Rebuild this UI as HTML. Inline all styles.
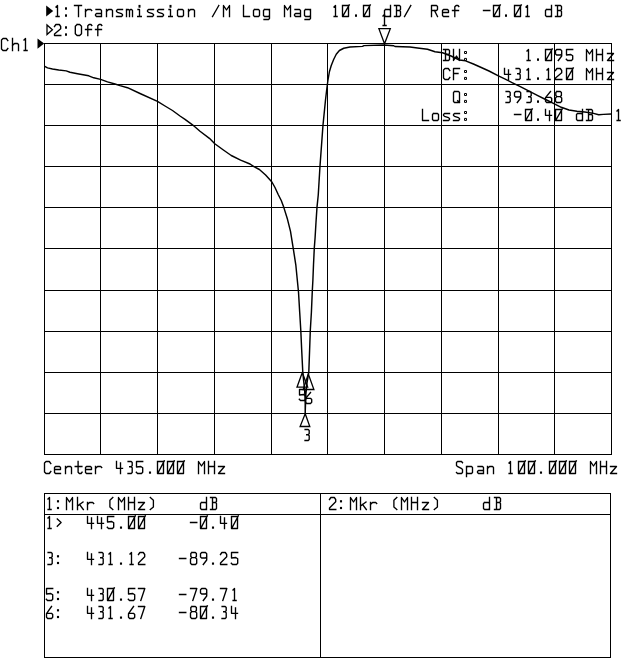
<!DOCTYPE html>
<html><head><meta charset="utf-8">
<style>
html,body{margin:0;padding:0;background:#fff;}
body{width:640px;height:659px;overflow:hidden;font-family:"Liberation Mono",monospace;}
svg{display:block;}
</style></head><body>
<svg width="640" height="659" viewBox="0 0 640 659">
<rect width="640" height="659" fill="#fff"/>
<g stroke="#000" stroke-width="1" fill="none" shape-rendering="crispEdges">
<path d="M44.5 43V455M100.5 43V455M157.5 43V455M214.5 43V455M271.5 43V455M327.5 43V455M384.5 43V455M441.5 43V455M498.5 43V455M554.5 43V455M611.5 43V455"/>
<path d="M44 43.5H612M44 84.5H612M44 125.5H612M44 166.5H612M44 207.5H612M44 248.5H612M44 290.5H612M44 331.5H612M44 372.5H612M44 413.5H612M44 454.5H612"/>
<path d="M44.5 493.5H610.5V657.5H44.5ZM44.5 514.5H610.5M320.5 493.5V657.5"/>
</g>
<g stroke="#000" stroke-width="1.45" fill="none" stroke-linejoin="round">
<polyline points="44.75,66.3 47.5,67.9 52.5,69 58.75,70 66.25,70.9 70,72.3 77.5,73.75 88.75,75.8 93.75,77.8 100.6,79.4 107.5,81.9 115,84 120,85.6 127.5,87.7 140,93.5 157.5,101.4 165,106 172.5,110.5 180,116 185,119.3 192.5,124.8 200,131.25 209.4,138.3 214.8,143.75 223.4,150 231.25,155.5 240.6,160.2 250,164 253.9,166.7 259.4,169.5 265.6,175 271.9,182 275,187.5 278.2,194.5 281.25,200.5 283.7,207.1 287.5,219.3 290.5,231.4 293.2,248.1 295.8,264.8 297.3,280 298.5,292 299.7,312.3 300.8,330.5 301.7,350.2 302.8,372.2 303.4,378.5 304.6,389.5 305.2,401.5 305.2,413.6 305.8,395 307,383 308.8,372.2 309.6,350.2 310.3,330.5 311.4,312.3 312.3,291 312.9,280 313.5,264.8 314.3,248.1 315.1,237.5 316,222.3 317,207.1 318.25,195 320,166 323,125 325.5,100 326.9,88 327.9,80.5 329.4,71.75 331.25,65.5 333.75,59.25 336.25,54.25 339.4,50.5 343.75,48.25 350,47 362.5,46.4 364,45.6 384,45 393.75,45.75 395,46.5 410,47 417.5,48 427.5,49.25 435,51.75 442.5,52.75 450,55.5 459.4,60 465.6,60.8 473.4,64 481.25,67.5 489,71 498.4,75.8 504.7,78.9 512.5,82.8 520.3,86.7 528.1,90.6 537.8,95.6 545.6,99.5 553.4,103.4 561.25,107.3 569,110 576.9,111.25 584.7,112 592.5,113.1 598.75,114.7 603.4,114.4 611.25,114"/>
</g>
<g stroke="#000" stroke-width="1.3" fill="none">
<path d="M384.5 43.8L378.9 28.7H390.3Z"/>
<path d="M302.3 372.5L297 387.2H307.7Z"/>
<path d="M308.3 374L303.2 389.5H313.9Z"/>
<path d="M305.2 413.7L300.1 426.5H309.8Z"/>
<path stroke-width="1.3" d="M47 25V34.6L52.4 29.8Z"/>
</g>
<g fill="#000" stroke="none">
<path d="M46.2 5.6V16.4L53.2 11Z"/>
<path d="M37.5 38.5V48.8L44.2 43.6Z"/>
</g>
<g stroke="#000" stroke-width="1.35" fill="none" stroke-linecap="square" stroke-linejoin="round">
<path d="M56 7L57.5 5.5 57.5 16.5M56.1 16.5L59.1 16.5M74.5 5.5L81.5 5.5M78.5 5.5L78.5 16.5M85.5 16.5L85.5 9.5M85.5 11.5L87.5 9.5 90.7 9.5 91.7 10.5M96 9.5L100.5 9.5 101.5 10.5 101.5 16.5M101.5 13.5L96.5 13.5 95.5 14.5 95.5 15.5 96.5 16.5 101.5 16.5M106.5 16.5L106.5 9.5M106.5 11.5L108.5 9.5 111.5 9.5 112.5 10.5 112.5 16.5M122.5 9.5L117.5 9.5 116.5 10.5 116.5 11.5 117.5 12.3 121.5 13.7 122.5 14.5 122.5 15.5 121.5 16.5 116.5 16.5M126.5 16.5L126.5 9.5M126.5 10.5L127.5 9.5 128.5 9.5 129.5 10.5 129.5 16.5M129.5 10.5L130.5 9.5 131.5 9.5 132.5 10.5 132.5 16.5M138 9.5L139.5 9.5 139.5 16.5M137.7 16.5L141.3 16.5M153.5 9.5L148.5 9.5 147.5 10.5 147.5 11.5 148.5 12.3 152.5 13.7 153.5 14.5 153.5 15.5 152.5 16.5 147.5 16.5M163.5 9.5L158.5 9.5 157.5 10.5 157.5 11.5 158.5 12.3 162.5 13.7 163.5 14.5 163.5 15.5 162.5 16.5 157.5 16.5M169 9.5L170.5 9.5 170.5 16.5M168.7 16.5L172.3 16.5M178.5 9.5L182.5 9.5 183.5 10.5 183.5 15.5 182.5 16.5 178.5 16.5 177.5 15.5 177.5 10.5 178.5 9.5M188.5 16.5L188.5 9.5M188.5 11.5L190.5 9.5 193.5 9.5 194.5 10.5 194.5 16.5"/>
<path d="M212.5 16.5L218.8 5.5M223.5 16.5L223.5 5.5 226.5 10 229.5 5.5 229.5 16.5M243.5 5.5L243.5 16.5 249.5 16.5M254.5 9.5L258.5 9.5 259.5 10.5 259.5 15.5 258.5 16.5 254.5 16.5 253.5 15.5 253.5 10.5 254.5 9.5M264.5 9.5L268.5 9.5 269.5 10.5 269.5 15.5 268.5 16.5 264.5 16.5 263.5 15.5 263.5 10.5 264.5 9.5M269.5 9.5L269.5 18.5 268.5 19.5 264 19.5M284.5 16.5L284.5 5.5 287.5 10 290.5 5.5 290.5 16.5M295 9.5L299.5 9.5 300.5 10.5 300.5 16.5M300.5 13.5L295.5 13.5 294.5 14.5 294.5 15.5 295.5 16.5 300.5 16.5M305.5 9.5L309.5 9.5 310.5 10.5 310.5 15.5 309.5 16.5 305.5 16.5 304.5 15.5 304.5 10.5 305.5 9.5M310.5 9.5L310.5 18.5 309.5 19.5 305 19.5"/>
<path d="M334 7L335.5 5.5 335.5 16.5M334.1 16.5L337.1 16.5M342.5 5.5L348.5 5.5 348.5 16.5 342.5 16.5 342.5 5.5M343.3 15.3L349.3 4.9M363.5 5.5L369.5 5.5 369.5 16.5 363.5 16.5 363.5 5.5M364.3 15.3L370.3 4.9M385.5 9.5L389.5 9.5 390.5 10.5 390.5 15.5 389.5 16.5 385.5 16.5 384.5 15.5 384.5 10.5 385.5 9.5M390.5 16.5L390.5 5.5M394.5 5.5L399.5 5.5 400.5 6.5 400.5 9.5 399.5 10.5 400.5 11.5 400.5 15.5 399.5 16.5 394.5 16.5M396.5 5.5L396.5 16.5M396.5 10.5L399.5 10.5M404.5 16.5L410.8 5.5"/>
<path d="M431.5 16.5L431.5 5.5 436.5 5.5 437.5 6.5 437.5 9.5 436.5 10.5 431.5 10.5M434.5 10.5L437.5 16.5M442.5 12.5L448.5 12.5 448.5 10.5 447.5 9.5 443.5 9.5 442.5 10.5 442.5 15.5 443.5 16.5 448.5 16.5M454.8 16.5L454.8 6.8 456.1 5.5 458 5.5 458.8 6.5M452.5 10.5L458.5 10.5"/>
<path d="M483.5 10.5L489.8 10.5M493.5 5.5L499.5 5.5 499.5 16.5 493.5 16.5 493.5 5.5M494.3 15.3L500.3 4.9M514.5 5.5L520.5 5.5 520.5 16.5 514.5 16.5 514.5 5.5M515.3 15.3L521.3 4.9M526 7L527.5 5.5 527.5 16.5M526.1 16.5L529.1 16.5M546.5 9.5L550.5 9.5 551.5 10.5 551.5 15.5 550.5 16.5 546.5 16.5 545.5 15.5 545.5 10.5 546.5 9.5M551.5 16.5L551.5 5.5M555.5 5.5L560.5 5.5 561.5 6.5 561.5 9.5 560.5 10.5 561.5 11.5 561.5 15.5 560.5 16.5 555.5 16.5M557.5 5.5L557.5 16.5M557.5 10.5L560.5 10.5"/>
<path d="M54.5 26.5L55.9 24.5 59.3 24.5 60.7 26.5 60.7 28.8 54.5 34 54.5 35.5 60.8 35.5M77.1 24.5L79.7 24.5 81.5 26.3 81.5 33.7 79.7 35.5 77.1 35.5 75.3 33.7 75.3 26.3 77.1 24.5M87.8 35.5L87.8 25.8 89.1 24.5 91 24.5 91.8 25.5M85.5 29.5L91.5 29.5M97.8 35.5L97.8 25.8 99.1 24.5 101 24.5 101.8 25.5M95.5 29.5L101.5 29.5"/>
<path d="M7.8 40.5L6.3 38.5 3 38.5 1.5 40 1.5 49 3 50.5 6.3 50.5 7.8 48.5M12.5 50.5L12.5 38.5M12.5 45.5L14.5 43.5 17.5 43.5 18.5 44.5 18.5 50.5M24 40L25.5 38.5 25.5 50.5M24.1 50.5L27.1 50.5"/>
<path d="M443.5 49.5L448.5 49.5 449.5 50.5 449.5 53.5 448.5 54.5 449.5 55.5 449.5 59.5 448.5 60.5 443.5 60.5M445.5 49.5L445.5 60.5M445.5 54.5L448.5 54.5M453.5 49.5L453.5 60.5 456.5 56 459.5 60.5 459.5 49.5M527 51L528.5 49.5 528.5 60.5M527.1 60.5L530.1 60.5M545.5 49.5L551.5 49.5 551.5 60.5 545.5 60.5 545.5 49.5M546.3 59.3L552.3 48.9M561.7 53.9L560.5 55 556.7 55 555.5 53.9 555.5 50.7 556.7 49.5 560.5 49.5 561.7 50.7 561.7 56 558.3 60.5M572.7 49.5L566.5 49.5 566.5 55 570.8 54.5 572.7 55.8 572.7 59.3 571.5 60.5 567.5 60.5 566.3 59.3M586.5 60.5L586.5 49.5 589.5 54 592.5 49.5 592.5 60.5M596.5 60.5L596.5 49.5M602.5 60.5L602.5 49.5M596.5 54.5L602.5 54.5M607.5 53.5L613.5 53.5 607.5 60.5 613.5 60.5"/>
<path stroke-width="1" stroke-linecap="butt" stroke-linejoin="miter" d="M464.5 51.5h2v2h-2zM464.5 58.4h2v2h-2z"/>
<path d="M449.8 70.5L448.3 68.5 445 68.5 443.5 70 443.5 78 445 79.5 448.3 79.5 449.8 77.5M453.5 79.5L453.5 68.5 459.5 68.5M453.5 73.5L458 73.5M504.5 68.5L504.5 74.3 510.5 74.3M508.5 70L508.5 79.5M516.1 68.5L519.2 68.5 520.2 69.5 520.2 72.7 519 73.7 517.7 73.7M519 73.7L520.2 74.7 520.2 78.5 519.2 79.5 516 79.5M527 70L528.5 68.5 528.5 79.5M527.1 79.5L530.1 79.5M547 70L548.5 68.5 548.5 79.5M547.1 79.5L550.1 79.5M555.5 70.5L556.9 68.5 560.3 68.5 561.7 70.5 561.7 72.8 555.5 78 555.5 79.5 561.8 79.5M566.5 68.5L572.5 68.5 572.5 79.5 566.5 79.5 566.5 68.5M567.3 78.3L573.3 67.9M586.5 79.5L586.5 68.5 589.5 73 592.5 68.5 592.5 79.5M596.5 79.5L596.5 68.5M602.5 79.5L602.5 68.5M596.5 73.5L602.5 73.5M607.5 72.5L613.5 72.5 607.5 79.5 613.5 79.5"/>
<path stroke-width="1" stroke-linecap="butt" stroke-linejoin="miter" d="M464.5 70.5h2v2h-2zM464.5 77.4h2v2h-2z"/>
<path d="M454.5 91.5L458.5 91.5 459.5 92.5 459.5 101.5 458.5 102.5 454.5 102.5 453.5 101.5 453.5 92.5 454.5 91.5M457.7 100.7L459.5 102.5M506.1 91.5L509.2 91.5 510.2 92.5 510.2 95.7 509 96.7 507.7 96.7M509 96.7L510.2 97.7 510.2 101.5 509.2 102.5 506 102.5M520.7 95.9L519.5 97 515.7 97 514.5 95.9 514.5 92.7 515.7 91.5 519.5 91.5 520.7 92.7 520.7 98 517.3 102.5M527.1 91.5L530.2 91.5 531.2 92.5 531.2 95.7 530 96.7 528.7 96.7M530 96.7L531.2 97.7 531.2 101.5 530.2 102.5 527 102.5M550.5 91.5L545.5 97.7 545.5 101.3 546.7 102.5 550.5 102.5 551.7 101.3 551.7 98.5 550.5 97.3 546.1 97.3M556.9 91.5L560.3 91.5 561.4 92.6 561.4 95.5 560.3 96.6 556.9 96.6 555.8 95.5 555.8 92.6 556.9 91.5M556.9 96.6L555.5 97.9 555.5 101.3 556.7 102.5 560.5 102.5 561.7 101.3 561.7 97.9 560.3 96.6"/>
<path stroke-width="1" stroke-linecap="butt" stroke-linejoin="miter" d="M464.5 93.5h2v2h-2zM464.5 100.4h2v2h-2z"/>
<path d="M422.5 109.5L422.5 120.5 428.5 120.5M433.5 113.5L437.5 113.5 438.5 114.5 438.5 119.5 437.5 120.5 433.5 120.5 432.5 119.5 432.5 114.5 433.5 113.5M449.5 113.5L444.5 113.5 443.5 114.5 443.5 115.5 444.5 116.3 448.5 117.7 449.5 118.5 449.5 119.5 448.5 120.5 443.5 120.5M459.5 113.5L454.5 113.5 453.5 114.5 453.5 115.5 454.5 116.3 458.5 117.7 459.5 118.5 459.5 119.5 458.5 120.5 453.5 120.5M514.5 114.5L520.8 114.5M525.5 109.5L531.5 109.5 531.5 120.5 525.5 120.5 525.5 109.5M526.3 119.3L532.3 108.9M545.5 109.5L545.5 115.3 551.5 115.3M549.5 111L549.5 120.5M555.5 109.5L561.5 109.5 561.5 120.5 555.5 120.5 555.5 109.5M556.3 119.3L562.3 108.9M577.5 113.5L581.5 113.5 582.5 114.5 582.5 119.5 581.5 120.5 577.5 120.5 576.5 119.5 576.5 114.5 577.5 113.5M582.5 120.5L582.5 109.5M586.5 109.5L591.5 109.5 592.5 110.5 592.5 113.5 591.5 114.5 592.5 115.5 592.5 119.5 591.5 120.5 586.5 120.5M588.5 109.5L588.5 120.5M588.5 114.5L591.5 114.5"/>
<path stroke-width="1" stroke-linecap="butt" stroke-linejoin="miter" d="M464.5 111.5h2v2h-2zM464.5 118.4h2v2h-2z"/>
<path d="M617 111L618.5 109.5 618.5 120.5M617.1 120.5L620.1 120.5"/>
<path d="M383 16L384.5 14.5 384.5 25.5M383.1 25.5L386.1 25.5"/>
<path d="M50.8 463.5L49.3 461.5 46 461.5 44.5 463 44.5 472 46 473.5 49.3 473.5 50.8 471.5M54.5 469.5L60.5 469.5 60.5 467.5 59.5 466.5 55.5 466.5 54.5 467.5 54.5 472.5 55.5 473.5 60.5 473.5M65.5 473.5L65.5 466.5M65.5 468.5L67.5 466.5 70.5 466.5 71.5 467.5 71.5 473.5M78.1 461.5L78.1 472.3 79.3 473.5 81.1 473.5 82.1 472.1M75.2 466.5L81.9 466.5M85.5 469.5L91.5 469.5 91.5 467.5 90.5 466.5 86.5 466.5 85.5 467.5 85.5 472.5 86.5 473.5 91.5 473.5M95.5 473.5L95.5 466.5M95.5 468.5L97.5 466.5 100.7 466.5 101.7 467.5M116.5 461.5L116.5 468.3 122.5 468.3M120.5 463L120.5 473.5M128.1 461.5L131.2 461.5 132.2 462.5 132.2 465.7 131 466.7 129.7 466.7M131 466.7L132.2 467.7 132.2 472.5 131.2 473.5 128 473.5M142.7 461.5L136.5 461.5 136.5 467 140.8 466.5 142.7 467.8 142.7 472.3 141.5 473.5 137.5 473.5 136.3 472.3M157.5 461.5L163.5 461.5 163.5 473.5 157.5 473.5 157.5 461.5M158.3 472.3L164.3 460.9M167.5 461.5L173.5 461.5 173.5 473.5 167.5 473.5 167.5 461.5M168.3 472.3L174.3 460.9M177.5 461.5L183.5 461.5 183.5 473.5 177.5 473.5 177.5 461.5M178.3 472.3L184.3 460.9M198.5 473.5L198.5 461.5 201.5 466 204.5 461.5 204.5 473.5M208.5 473.5L208.5 461.5M214.5 473.5L214.5 461.5M208.5 466.5L214.5 466.5M218.5 466.5L224.5 466.5 218.5 473.5 224.5 473.5"/>
<path d="M462.5 462.7L461.5 461.5 457.5 461.5 456.5 462.5 456.5 465.5 457.3 466.3 461.7 468.7 462.5 469.5 462.5 472.5 461.5 473.5 457.5 473.5 456.5 472.5M467.5 466.5L471.5 466.5 472.5 467.5 472.5 472.5 471.5 473.5 467.5 473.5 466.5 472.5 466.5 467.5 467.5 466.5M466.5 466.5L466.5 476.5M478 466.5L482.5 466.5 483.5 467.5 483.5 473.5M483.5 470.5L478.5 470.5 477.5 471.5 477.5 472.5 478.5 473.5 483.5 473.5M487.5 473.5L487.5 466.5M487.5 468.5L489.5 466.5 492.5 466.5 493.5 467.5 493.5 473.5M509 463L510.5 461.5 510.5 473.5M509.1 473.5L512.1 473.5M518.5 461.5L524.5 461.5 524.5 473.5 518.5 473.5 518.5 461.5M519.3 472.3L525.3 460.9M528.5 461.5L534.5 461.5 534.5 473.5 528.5 473.5 528.5 461.5M529.3 472.3L535.3 460.9M549.5 461.5L555.5 461.5 555.5 473.5 549.5 473.5 549.5 461.5M550.3 472.3L556.3 460.9M559.5 461.5L565.5 461.5 565.5 473.5 559.5 473.5 559.5 461.5M560.3 472.3L566.3 460.9M569.5 461.5L575.5 461.5 575.5 473.5 569.5 473.5 569.5 461.5M570.3 472.3L576.3 460.9M590.5 473.5L590.5 461.5 593.5 466 596.5 461.5 596.5 473.5M600.5 473.5L600.5 461.5M606.5 473.5L606.5 461.5M600.5 466.5L606.5 466.5M610.5 466.5L616.5 466.5 610.5 473.5 616.5 473.5"/>
<path d="M48 499L49.5 497.5 49.5 509.5M48.1 509.5L51.1 509.5M66.5 509.5L66.5 497.5 69.5 502 72.5 497.5 72.5 509.5M77.5 509.5L77.5 497.5M77.5 506L83 502M79.5 504.5L83.3 509.5M87.5 509.5L87.5 502.5M87.5 504.5L89.5 502.5 92.7 502.5 93.7 503.5M112.8 497.5L109.9 500.2 109.9 506.9 112.8 509.5M118.5 509.5L118.5 497.5 121.5 502 124.5 497.5 124.5 509.5M128.5 509.5L128.5 497.5M134.5 509.5L134.5 497.5M128.5 502.5L134.5 502.5M138.5 502.5L144.5 502.5 138.5 509.5 144.5 509.5M150.3 497.5L153.4 500.2 153.4 506.9 150.3 509.5M201.5 502.5L205.5 502.5 206.5 503.5 206.5 508.5 205.5 509.5 201.5 509.5 200.5 508.5 200.5 503.5 201.5 502.5M206.5 509.5L206.5 497.5M210.5 497.5L215.5 497.5 216.5 498.5 216.5 501.5 215.5 502.5 216.5 503.5 216.5 508.5 215.5 509.5 210.5 509.5M212.5 497.5L212.5 509.5M212.5 502.5L215.5 502.5"/>
<path d="M329.5 499.5L330.9 497.5 334.3 497.5 335.7 499.5 335.7 501.8 329.5 508 329.5 509.5 335.8 509.5M350.5 509.5L350.5 497.5 353.5 502 356.5 497.5 356.5 509.5M360.5 509.5L360.5 497.5M360.5 506L366 502M362.5 504.5L366.3 509.5M370.5 509.5L370.5 502.5M370.5 504.5L372.5 502.5 375.7 502.5 376.7 503.5M396.8 497.5L393.9 500.2 393.9 506.9 396.8 509.5M401.5 509.5L401.5 497.5 404.5 502 407.5 497.5 407.5 509.5M411.5 509.5L411.5 497.5M417.5 509.5L417.5 497.5M411.5 502.5L417.5 502.5M422.5 502.5L428.5 502.5 422.5 509.5 428.5 509.5M434.3 497.5L437.4 500.2 437.4 506.9 434.3 509.5M484.5 502.5L488.5 502.5 489.5 503.5 489.5 508.5 488.5 509.5 484.5 509.5 483.5 508.5 483.5 503.5 484.5 502.5M489.5 509.5L489.5 497.5M494.5 497.5L499.5 497.5 500.5 498.5 500.5 501.5 499.5 502.5 500.5 503.5 500.5 508.5 499.5 509.5 494.5 509.5M496.5 497.5L496.5 509.5M496.5 502.5L499.5 502.5"/>
<path d="M48 518L49.5 516.5 49.5 528.5M48.1 528.5L51.1 528.5M57.3 519L61.1 522.5 57.3 526.2M87.5 516.5L87.5 523.3 93.5 523.3M91.5 518L91.5 528.5M97.5 516.5L97.5 523.3 103.5 523.3M101.5 518L101.5 528.5M113.7 516.5L107.5 516.5 107.5 522 111.8 521.5 113.7 522.8 113.7 527.3 112.5 528.5 108.5 528.5 107.3 527.3M128.5 516.5L134.5 516.5 134.5 528.5 128.5 528.5 128.5 516.5M129.3 527.3L135.3 515.9M138.5 516.5L144.5 516.5 144.5 528.5 138.5 528.5 138.5 516.5M139.3 527.3L145.3 515.9M190.5 522.5L196.8 522.5M200.5 516.5L206.5 516.5 206.5 528.5 200.5 528.5 200.5 516.5M201.3 527.3L207.3 515.9M220.5 516.5L220.5 523.3 226.5 523.3M224.5 518L224.5 528.5M231.5 516.5L237.5 516.5 237.5 528.5 231.5 528.5 231.5 516.5M232.3 527.3L238.3 515.9"/>
<path d="M48.1 552.5L51.2 552.5 52.2 553.5 52.2 556.7 51 557.7 49.7 557.7M51 557.7L52.2 558.7 52.2 563.5 51.2 564.5 48 564.5M87.5 552.5L87.5 559.3 93.5 559.3M91.5 554L91.5 564.5M99.1 552.5L102.2 552.5 103.2 553.5 103.2 556.7 102 557.7 100.7 557.7M102 557.7L103.2 558.7 103.2 563.5 102.2 564.5 99 564.5M109 554L110.5 552.5 110.5 564.5M109.1 564.5L112.1 564.5M130 554L131.5 552.5 131.5 564.5M130.1 564.5L133.1 564.5M138.5 554.5L139.9 552.5 143.3 552.5 144.7 554.5 144.7 556.8 138.5 563 138.5 564.5 144.8 564.5M179.5 558.5L185.8 558.5M191.9 552.5L195.3 552.5 196.4 553.6 196.4 556.5 195.3 557.6 191.9 557.6 190.8 556.5 190.8 553.6 191.9 552.5M191.9 557.6L190.5 558.9 190.5 563.3 191.7 564.5 195.5 564.5 196.7 563.3 196.7 558.9 195.3 557.6M206.7 556.9L205.5 558 201.7 558 200.5 556.9 200.5 553.7 201.7 552.5 205.5 552.5 206.7 553.7 206.7 560 203.3 564.5M220.5 554.5L221.9 552.5 225.3 552.5 226.7 554.5 226.7 556.8 220.5 563 220.5 564.5 226.8 564.5M237.7 552.5L231.5 552.5 231.5 558 235.8 557.5 237.7 558.8 237.7 563.3 236.5 564.5 232.5 564.5 231.3 563.3"/>
<path d="M52.7 588.5L46.5 588.5 46.5 594 50.8 593.5 52.7 594.8 52.7 599.3 51.5 600.5 47.5 600.5 46.3 599.3M87.5 588.5L87.5 595.3 93.5 595.3M91.5 590L91.5 600.5M99.1 588.5L102.2 588.5 103.2 589.5 103.2 592.7 102 593.7 100.7 593.7M102 593.7L103.2 594.7 103.2 599.5 102.2 600.5 99 600.5M107.5 588.5L113.5 588.5 113.5 600.5 107.5 600.5 107.5 588.5M108.3 599.3L114.3 587.9M134.7 588.5L128.5 588.5 128.5 594 132.8 593.5 134.7 594.8 134.7 599.3 133.5 600.5 129.5 600.5 128.3 599.3M138.5 588.5L144.8 588.5 140.8 600.5M179.5 594.5L185.8 594.5M190.5 588.5L196.8 588.5 192.8 600.5M206.7 592.9L205.5 594 201.7 594 200.5 592.9 200.5 589.7 201.7 588.5 205.5 588.5 206.7 589.7 206.7 596 203.3 600.5M220.5 588.5L226.8 588.5 222.8 600.5M233 590L234.5 588.5 234.5 600.5M233.1 600.5L236.1 600.5"/>
<path d="M51.5 606.5L46.5 613.7 46.5 617.3 47.7 618.5 51.5 618.5 52.7 617.3 52.7 614.5 51.5 613.3 47.1 613.3M87.5 606.5L87.5 613.3 93.5 613.3M91.5 608L91.5 618.5M99.1 606.5L102.2 606.5 103.2 607.5 103.2 610.7 102 611.7 100.7 611.7M102 611.7L103.2 612.7 103.2 617.5 102.2 618.5 99 618.5M109 608L110.5 606.5 110.5 618.5M109.1 618.5L112.1 618.5M133.5 606.5L128.5 613.7 128.5 617.3 129.7 618.5 133.5 618.5 134.7 617.3 134.7 614.5 133.5 613.3 129.1 613.3M138.5 606.5L144.8 606.5 140.8 618.5M179.5 612.5L185.8 612.5M191.9 606.5L195.3 606.5 196.4 607.6 196.4 610.5 195.3 611.6 191.9 611.6 190.8 610.5 190.8 607.6 191.9 606.5M191.9 611.6L190.5 612.9 190.5 617.3 191.7 618.5 195.5 618.5 196.7 617.3 196.7 612.9 195.3 611.6M200.5 606.5L206.5 606.5 206.5 618.5 200.5 618.5 200.5 606.5M201.3 617.3L207.3 605.9M222.1 606.5L225.2 606.5 226.2 607.5 226.2 610.7 225 611.7 223.7 611.7M225 611.7L226.2 612.7 226.2 617.5 225.2 618.5 222 618.5M231.5 606.5L231.5 613.3 237.5 613.3M235.5 608L235.5 618.5"/>
<path d="M305.7 389.5L299.5 389.5 299.5 395 303.8 394.5 305.7 395.8 305.7 399.3 304.5 400.5 300.5 400.5 299.3 399.3"/>
<path d="M310.5 392.5L305.5 398.7 305.5 402.3 306.7 403.5 310.5 403.5 311.7 402.3 311.7 399.5 310.5 398.3 306.1 398.3"/>
<path d="M305.1 429.5L308.2 429.5 309.2 430.5 309.2 433.7 308 434.7 306.7 434.7M308 434.7L309.2 435.7 309.2 439.5 308.2 440.5 305 440.5"/>
</g>
<g fill="#000" stroke="none"><rect x="65" y="7.3" width="2" height="2.4"/><rect x="65" y="14.35" width="2" height="2.4"/><rect x="138.5" y="4.9" width="2" height="2.8"/><rect x="169.5" y="4.9" width="2" height="2.8"/><rect x="355" y="14.4" width="2" height="2.4"/><rect x="505" y="14.4" width="2" height="2.4"/><rect x="65" y="26.3" width="2" height="2.4"/><rect x="65" y="33.35" width="2" height="2.4"/><rect x="537" y="58.4" width="2" height="2.4"/><rect x="537" y="77.4" width="2" height="2.4"/><rect x="537" y="100.4" width="2" height="2.4"/><rect x="537" y="118.4" width="2" height="2.4"/><rect x="148.95" y="471.5" width="2.1" height="2.2"/><rect x="539.95" y="471.5" width="2.1" height="2.2"/><rect x="56.95" y="500.2" width="2.1" height="2.2"/><rect x="56.95" y="506.9" width="2.1" height="2.2"/><rect x="339.95" y="500.2" width="2.1" height="2.2"/><rect x="339.95" y="506.9" width="2.1" height="2.2"/><rect x="119.95" y="526.5" width="2.1" height="2.2"/><rect x="211.95" y="526.5" width="2.1" height="2.2"/><rect x="56.95" y="555.2" width="2.1" height="2.2"/><rect x="56.95" y="561.9" width="2.1" height="2.2"/><rect x="119.95" y="562.5" width="2.1" height="2.2"/><rect x="211.95" y="562.5" width="2.1" height="2.2"/><rect x="56.95" y="591.2" width="2.1" height="2.2"/><rect x="56.95" y="597.9" width="2.1" height="2.2"/><rect x="119.95" y="598.5" width="2.1" height="2.2"/><rect x="211.95" y="598.5" width="2.1" height="2.2"/><rect x="56.95" y="609.2" width="2.1" height="2.2"/><rect x="56.95" y="615.9" width="2.1" height="2.2"/><rect x="119.95" y="616.5" width="2.1" height="2.2"/><rect x="211.95" y="616.5" width="2.1" height="2.2"/></g>
</svg>
</body></html>
